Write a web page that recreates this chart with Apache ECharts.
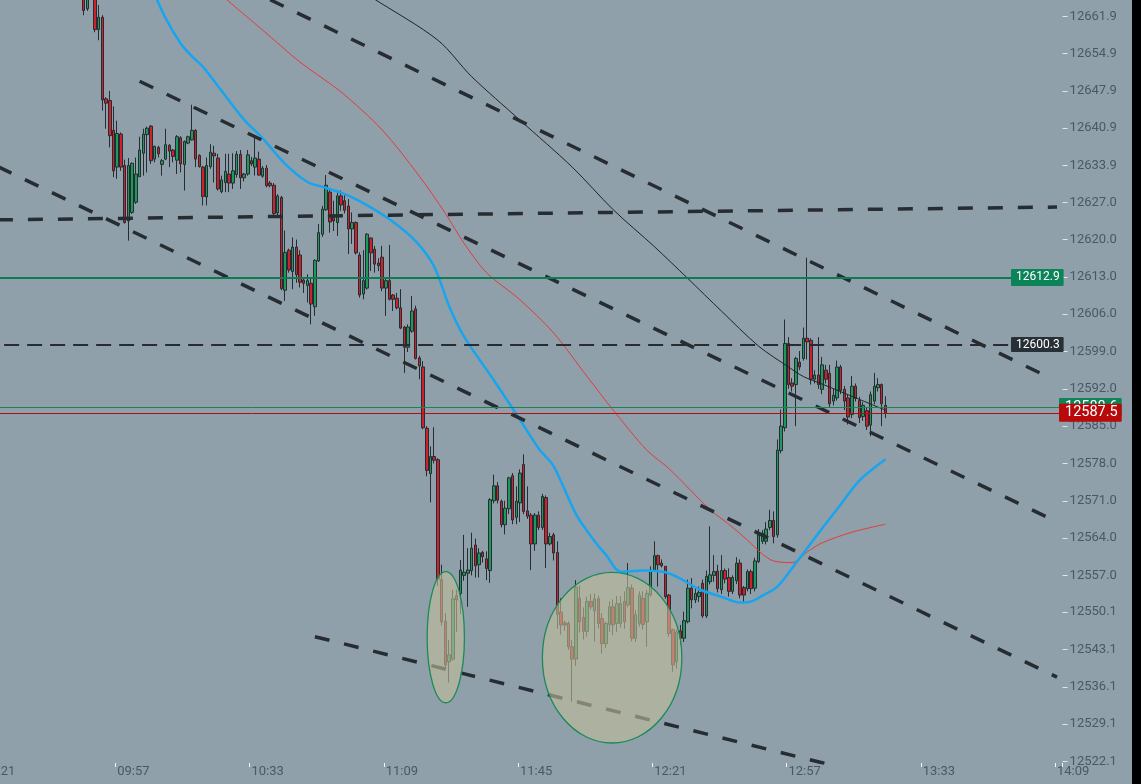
<!DOCTYPE html>
<html>
<head>
<meta charset="utf-8">
<script src="https://cdn.jsdelivr.net/npm/echarts@6/dist/echarts.min.js"></script>
<style>
  html, body { margin: 0; padding: 0; background: #000; }
  #wrap { position: relative; width: 1132px; height: 784px; overflow: hidden; }
  /* the session starts left of the window: shift the canvas so 09:21 sits off screen */
  #chart { position: absolute; left: -20px; top: 0; width: 1152px; height: 784px; }
</style>
</head>
<body>
<div id="wrap"><div id="chart"></div></div>
<script>
(function() {
  // time axis: one category per minute
  var sessionStart = 9 * 60 + 21;
  var minuteCount = 290;
  var firstCandle = '09:48';

  // price window and right-hand tick labels
  var priceMin = 12521.80;
  var priceMax = 12664.95;
  var priceTicks = [12522.1, 12529.1, 12536.1, 12543.1, 12550.1, 12557.0, 12564.0, 12571.0,
    12578.0, 12585.0, 12592.0, 12599.0, 12606.0, 12613.0, 12620.0, 12627.0, 12633.9,
    12640.9, 12647.9, 12654.9, 12661.9];

  // 1-minute candles from 09:48
  var opens = [12666.0,12663.3,12665.5,12667.0,12659.4,12661.7,12646.4,12646.1,12640.5,12633.6,
    12639.8,12633.9,12623.5,12625.1,12627.0,12631.8,12636.2,12639.7,12641.3,12635.1,
    12637.3,12634.1,12635.1,12637.7,12636.8,12634.9,12639.1,12634.1,12638.1,12638.7,
    12640.5,12635.8,12633.6,12628.0,12633.7,12636.2,12635.3,12629.0,12630.7,12632.3,
    12630.6,12632.2,12636.0,12631.6,12632.3,12634.8,12633.6,12635.1,12631.9,12633.4,
    12630.6,12630.2,12625.0,12627.9,12610.5,12618.0,12614.0,12618.6,12617.1,12612.4,
    12611.4,12611.8,12607.4,12616.0,12621.0,12625.6,12628.9,12624.2,12623.2,12628.2,
    12627.3,12626.3,12622.0,12623.2,12617.1,12609.8,12610.9,12620.3,12618.2,12615.6,
    12616.7,12610.9,12612.3,12609.6,12609.0,12607.2,12603.6,12599.8,12602.8,12607.0,
    12597.8,12596.1,12584.6,12576.1,12579.3,12578.7,12556.2,12548.4,12540.8,12541.3,
    12553.2,12553.6,12557.0,12557.4,12557.9,12562.7,12559.0,12561.3,12560.1,12557.9,
    12571.0,12573.8,12570.9,12566.5,12569.5,12575.7,12567.9,12570.6,12577.8,12569.1,
    12568.3,12562.9,12568.3,12566.0,12571.6,12562.9,12564.6,12561.3,12550.1,12548.1,
    12548.0,12543.6,12541.3,12552.7,12549.1,12546.5,12552.1,12550.3,12552.6,12548.9,
    12544.2,12547.8,12551.1,12548.0,12548.0,12552.1,12551.5,12554.6,12545.2,12548.0,
    12552.7,12548.3,12553.3,12558.0,12560.7,12559.3,12558.7,12553.3,12546.8,12540.8,
    12546.6,12545.2,12548.3,12554.6,12552.4,12553.0,12555.5,12549.4,12555.8,12557.0,
    12557.8,12554.3,12557.9,12556.6,12554.0,12556.0,12559.3,12554.7,12554.5,12557.7,
    12554.6,12559.6,12563.4,12563.4,12566.0,12567.3,12564.6,12580.4,12584.7,12600.5,
    12593.1,12592.8,12597.0,12597.7,12601.5,12601.1,12593.8,12594.6,12591.9,12595.5,
    12594.9,12589.7,12590.3,12596.1,12591.9,12590.3,12587.2,12592.5,12589.8,12586.8,
    12587.9,12585.2,12589.7,12592.2,12592.8,12588.9];
  var highs = [12667.0,12666.0,12668.0,12668.0,12664.0,12662.1,12646.7,12647.9,12645.0,12642.3,
    12640.1,12635.0,12635.3,12634.5,12635.4,12639.3,12640.8,12641.2,12641.5,12637.6,
    12637.6,12635.1,12640.8,12637.9,12637.0,12639.6,12639.4,12638.6,12639.5,12645.3,
    12640.7,12636.0,12633.8,12635.4,12637.9,12637.6,12636.1,12632.0,12636.1,12636.1,
    12636.2,12636.6,12636.8,12632.5,12636.8,12635.5,12639.3,12636.5,12633.8,12634.0,
    12631.0,12630.6,12628.5,12628.2,12621.7,12618.3,12620.4,12620.0,12618.0,12612.9,
    12613.5,12612.6,12616.3,12622.9,12626.3,12632.1,12629.5,12627.3,12629.2,12629.2,
    12628.7,12627.6,12625.1,12623.4,12617.6,12618.0,12621.2,12620.4,12618.8,12616.5,
    12618.8,12612.6,12619.0,12609.8,12610.0,12610.7,12603.8,12604.1,12609.4,12607.6,
    12598.2,12597.2,12585.0,12581.2,12584.8,12579.0,12559.0,12549.9,12544.9,12554.3,
    12554.3,12559.9,12564.6,12562.1,12565.0,12563.9,12562.1,12561.6,12561.5,12571.5,
    12575.9,12574.5,12571.2,12571.0,12575.5,12576.2,12573.7,12576.9,12579.7,12573.7,
    12568.7,12568.7,12569.0,12572.3,12572.0,12565.0,12565.0,12563.4,12552.7,12548.5,
    12548.4,12544.9,12556.1,12555.1,12551.0,12553.0,12553.5,12553.6,12553.2,12549.9,
    12548.3,12552.1,12552.5,12553.1,12553.1,12554.0,12559.3,12555.3,12550.5,12554.0,
    12554.0,12554.3,12558.7,12563.4,12560.9,12560.0,12558.7,12553.5,12547.0,12546.8,
    12547.7,12550.2,12556.2,12556.5,12554.7,12554.9,12556.2,12557.9,12566.2,12560.8,
    12559.0,12560.8,12558.3,12558.3,12557.0,12560.4,12560.0,12555.0,12558.1,12558.1,
    12560.3,12565.7,12565.5,12567.0,12569.3,12569.0,12582.5,12588.1,12605.0,12601.7,
    12594.0,12598.0,12599.1,12603.5,12616.6,12601.5,12595.5,12601.7,12598.0,12596.5,
    12596.5,12592.0,12597.3,12596.5,12592.5,12591.0,12594.4,12593.0,12590.5,12589.5,
    12588.5,12591.5,12595.0,12594.0,12593.0,12590.6];
  var lows = [12662.1,12662.9,12665.2,12658.9,12657.4,12644.2,12640.8,12637.3,12631.7,12631.4,
    12632.9,12623.0,12619.8,12624.8,12626.7,12631.7,12632.0,12632.6,12634.2,12634.5,
    12635.4,12632.0,12634.9,12633.6,12634.5,12632.3,12632.6,12629.2,12637.9,12638.6,
    12633.6,12633.5,12626.4,12626.4,12633.3,12630.7,12629.2,12628.7,12628.9,12628.9,
    12629.5,12631.6,12629.5,12630.9,12632.0,12633.8,12632.0,12632.0,12631.6,12629.8,
    12629.8,12624.6,12624.5,12610.5,12608.5,12613.8,12610.7,12611.9,12611.0,12610.0,
    12608.2,12604.1,12605.7,12615.8,12620.5,12625.4,12621.3,12621.6,12620.7,12625.4,
    12624.9,12617.3,12619.2,12617.2,12609.1,12608.8,12610.6,12614.1,12613.8,12614.1,
    12610.3,12605.7,12608.6,12606.6,12606.9,12603.2,12595.0,12598.9,12602.5,12597.5,
    12593.8,12584.4,12575.6,12570.7,12578.0,12555.0,12547.6,12539.5,12536.9,12541.0,
    12546.4,12549.8,12556.0,12551.1,12557.0,12556.6,12556.6,12559.4,12556.1,12555.6,
    12570.5,12570.5,12566.0,12564.7,12568.5,12566.6,12566.6,12567.0,12568.5,12567.6,
    12558.0,12561.6,12565.5,12565.5,12558.4,12562.6,12559.8,12547.0,12545.9,12546.6,
    12543.0,12533.3,12540.0,12546.3,12545.0,12545.5,12550.6,12544.6,12547.0,12542.3,
    12543.4,12546.4,12545.8,12546.4,12547.2,12547.0,12551.0,12544.6,12544.5,12547.4,
    12546.8,12543.6,12553.0,12557.7,12554.9,12558.5,12552.6,12545.5,12538.9,12539.5,
    12543.9,12544.5,12548.0,12550.8,12551.8,12552.0,12549.0,12549.0,12555.3,12555.8,
    12553.8,12553.5,12555.5,12553.0,12553.5,12555.4,12552.7,12551.8,12554.0,12553.5,
    12554.0,12559.3,12562.9,12562.8,12565.5,12563.0,12564.1,12579.9,12584.0,12592.0,
    12591.5,12585.0,12595.5,12597.3,12597.5,12592.8,12593.0,12592.0,12591.0,12593.0,
    12588.5,12588.9,12589.8,12591.0,12588.0,12585.3,12586.5,12589.6,12585.6,12586.0,
    12584.3,12583.1,12589.1,12591.5,12585.0,12586.5];
  var closes = [12663.0,12665.5,12667.0,12659.4,12661.7,12646.2,12645.6,12639.5,12632.9,12639.9,
    12633.6,12623.2,12633.9,12634.3,12632.3,12636.8,12639.8,12640.9,12634.8,12637.5,
    12636.1,12634.8,12637.8,12636.6,12635.6,12639.3,12634.2,12638.4,12639.3,12640.5,
    12635.1,12633.7,12628.1,12633.9,12636.4,12635.7,12629.5,12631.2,12632.8,12630.6,
    12632.9,12636.0,12631.6,12632.3,12635.9,12634.2,12635.3,12632.1,12633.4,12630.1,
    12630.1,12624.9,12628.2,12610.8,12617.6,12614.3,12618.6,12613.4,12612.0,12611.8,
    12612.3,12607.9,12616.1,12621.3,12625.7,12630.2,12623.3,12623.5,12628.2,12626.5,
    12625.5,12622.0,12623.2,12617.5,12609.6,12612.3,12621.0,12617.5,12615.4,12615.1,
    12610.9,12612.3,12608.8,12608.8,12607.2,12603.4,12599.8,12603.6,12606.6,12597.7,
    12596.3,12584.7,12576.7,12579.3,12578.6,12556.3,12548.3,12540.2,12542.1,12552.6,
    12552.4,12558.0,12557.6,12558.0,12562.1,12558.8,12561.2,12560.5,12558.3,12571.2,
    12573.8,12571.1,12566.5,12569.6,12575.3,12567.4,12570.9,12576.2,12569.0,12568.1,
    12562.9,12568.3,12566.0,12571.8,12562.9,12564.3,12561.2,12549.7,12547.7,12547.7,
    12543.6,12541.3,12554.8,12548.3,12546.5,12552.1,12551.1,12552.6,12548.0,12544.2,
    12548.0,12551.1,12547.7,12551.7,12551.7,12548.3,12554.7,12545.2,12549.6,12553.3,
    12547.8,12553.6,12558.0,12560.7,12559.0,12558.8,12553.0,12546.1,12540.2,12546.4,
    12545.2,12548.5,12554.6,12552.4,12553.6,12553.8,12549.4,12556.8,12557.1,12557.7,
    12554.5,12557.9,12556.3,12554.0,12556.6,12559.3,12553.3,12553.3,12557.7,12554.5,
    12559.7,12564.6,12564.9,12565.7,12567.3,12564.3,12580.5,12585.0,12600.5,12592.8,
    12592.5,12597.7,12596.1,12601.5,12600.8,12593.8,12594.6,12592.8,12596.5,12593.8,
    12589.2,12590.8,12596.1,12591.7,12589.7,12586.7,12592.5,12590.2,12586.6,12588.9,
    12585.0,12590.9,12592.5,12592.8,12589.2,12587.5];

  // moving averages: [candle number from 09:48, price]
  var maBlue = [[18,12667.6],[22,12661.5],[26,12656.8],[29,12654.4],[32,12652.4],[36,12648.8],
    [43,12642.5],[48,12639.0],[54,12634.2],[60,12630.8],[64,12629.9],[69,12628.8],[74,12627.2],
    [82,12623.8],[89,12619.7],[94,12614.9],[98,12607.5],[102,12601.8],[110,12593.6],[117,12586.2],
    [122,12580.8],[126,12577.5],[132,12568.5],[137,12563.4],[140,12560.9],[144,12557.7],
    [150,12557.9],[156,12557.6],[160,12556.4],[165,12554.4],[171,12553.0],[176,12551.9],
    [179,12552.1],[182,12553.2],[186,12554.9],[190,12558.4],[198,12565.8],[203,12570.3],
    [208,12574.8],[215,12578.8]];
  var maRed = [[37,12665.8],[48,12659.3],[58,12653.3],[69,12647.7],[80,12640.6],[90,12631.9],
    [97,12624.9],[102,12619.3],[108,12613.8],[117,12608.7],[126,12602.5],[135,12594.3],
    [142,12588.0],[151,12580.5],[157,12577.0],[168,12569.3],[173,12566.6],[178,12563.6],
    [182,12561.0],[185,12559.7],[190,12559.4],[194,12561.4],[198,12563.1],[206,12565.1],
    [215,12566.6]];
  var maBlack = [[70,12668.6],[78,12665.1],[95,12657.4],[104,12650.6],[117,12642.4],[131,12633.6],
    [142,12625.6],[153,12618.7],[162,12612.7],[171,12606.6],[181,12600.0],[189,12596.1],
    [193,12594.3],[198,12592.9],[206,12590.6],[215,12588.0]];

  // drawn trend lines: two end points each
  var trendLines = [
    [[50,12665.0],[259,12594.1]],
    [[15,12649.7],[259,12567.7]],
    [[-23,12633.7],[261,12537.9]],
    [[-23,12623.7],[261,12626.1]],
    [[62,12545.5],[200,12521.5]]
  ];

  // price levels on the right
  var levelGreen = 12612.9;
  var levelDashed = 12600.3;
  var lastBid = 12588.6;
  var lastPrice = 12587.5;

  // highlighted zones: [centre candle, centre price, half width in candles, half height in price]
  var zones = [[97.1,12545.4,5.0,12.3],[141.7,12541.55,18.7,16.0]];

  function pad(n) { return (n < 10 ? '0' : '') + n; }
  var times = [];
  for (var m = 0; m < minuteCount; m++) {
    var t = sessionStart + m;
    times.push(pad(Math.floor(t / 60)) + ':' + pad(t % 60));
  }
  var off = times.indexOf(firstCandle);

  var candleData = times.map(function(t, i) {
    var k = i - off;
    if (k < 0 || k >= opens.length) return ['-', '-', '-', '-'];
    return [opens[k], closes[k], lows[k], highs[k]];
  });
  function shift(pts) { return pts.map(function(p) { return [p[0] + off, p[1]]; }); }

  var ink = '#262c31';
  var axisText = '#4a5866';
  var font = 'Roboto, sans-serif';

  function levelLabel(bg, size, pad, dist) {
    return {
      show: true, position: 'end', distance: dist,
      formatter: function(p) { return p.value.toFixed(1); },
      color: '#ffffff', backgroundColor: bg, padding: pad,
      fontSize: size, fontFamily: font, borderRadius: 1
    };
  }

  var series = [{
    type: 'candlestick',
    data: candleData,
    barWidth: 3,
    itemStyle: {
      color: '#1c9a5c', color0: '#d0202b',
      borderColor: ink, borderColor0: ink, borderWidth: 1
    },
    markLine: {
      silent: true,
      symbol: ['none', 'none'],
      animation: false,
      data: [
        { yAxis: levelGreen, lineStyle: { color: '#0d7c53', width: 2, type: 'solid' },
          label: levelLabel('#0b8458', 12, [3, 4, 2, 5], -51.6) },
        { yAxis: levelDashed, lineStyle: { color: ink, width: 2, type: [15, 8] },
          label: levelLabel('#273036', 12, [2, 4, 1, 5], -51.6) },
        { yAxis: lastBid, lineStyle: { color: '#12865a', width: 1, type: 'solid' },
          label: levelLabel('#0f8457', 14.5, [2, 4, 1, 6], -3.6) },
        { yAxis: lastPrice, lineStyle: { color: '#b20e0e', width: 1, type: 'solid' },
          label: levelLabel('#b80a0a', 14.5, [2, 4, 1, 6], -3.6) }
      ]
    }
  }, {
    type: 'line', data: shift(maRed), showSymbol: false, smooth: 0.3, silent: true,
    lineStyle: { color: '#e63a3a', width: 1 }
  }, {
    type: 'line', data: shift(maBlack), showSymbol: false, smooth: 0.3, silent: true,
    lineStyle: { color: '#1f2327', width: 1 }
  }, {
    type: 'line', data: shift(maBlue), showSymbol: false, smooth: 0.3, silent: true,
    lineStyle: { color: '#17a5ef', width: 2.5 }
  }];

  trendLines.forEach(function(tl) {
    series.push({
      type: 'line', data: shift(tl), showSymbol: false, silent: true,
      lineStyle: { color: ink, width: 3.5, type: [15, 15] }
    });
  });

  series.push({
    type: 'custom',
    data: zones.map(function(z) { return [Math.round(z[0]) + off, z[1]]; }),
    encode: { x: 0, y: 1 },
    silent: true,
    z: 10,
    renderItem: function(params, api) {
      var z = zones[params.dataIndex];
      var k = z[0] + off;
      var base = Math.floor(k);
      var a = api.coord([base, z[1]]);
      var b = api.coord([base + 1, z[1]]);
      var cx = a[0] + (b[0] - a[0]) * (k - base);
      var cy = a[1];
      var rx = (b[0] - a[0]) * z[2];
      var ry = cy - api.coord([base, z[1] + z[3]])[1];
      var d = 'M' + (cx - rx) + ' ' + cy +
        ' A' + rx + ' ' + ry + ' 0 1 0 ' + (cx + rx) + ' ' + cy +
        ' A' + rx + ' ' + ry + ' 0 1 0 ' + (cx - rx) + ' ' + cy + ' Z';
      return {
        type: 'path',
        shape: { pathData: d },
        style: { fill: 'rgba(192,188,152,0.62)', stroke: '#1a8a5b', lineWidth: 1.3 }
      };
    }
  });

  var chart = echarts.init(document.getElementById('chart'), null, { renderer: 'canvas' });
  chart.setOption({
    animation: false,
    backgroundColor: '#8fa0aa',
    grid: { left: 0, right: 69.4, top: 0, bottom: 21 },
    xAxis: {
      type: 'category',
      data: times,
      boundaryGap: true,
      axisLine: { show: false },
      axisTick: { show: true, interval: 35, length: 4, lineStyle: { color: '#f2f5f7' } },
      axisLabel: { interval: 35, align: 'left', color: axisText, fontSize: 13, fontFamily: font, margin: 2 },
      splitLine: { show: false }
    },
    yAxis: {
      type: 'value',
      position: 'right',
      min: priceMin,
      max: priceMax,
      axisLine: { show: false },
      splitLine: { show: false },
      axisTick: { show: true, length: 5, customValues: priceTicks, lineStyle: { color: '#dfe6ea' } },
      axisLabel: {
        customValues: priceTicks, color: axisText, fontSize: 13, fontFamily: font, margin: 7,
        formatter: function(v) { return v.toFixed(1); }
      }
    },
    series: series
  });
  window.addEventListener('resize', function() { chart.resize(); });
})();
</script>
</body>
</html>
